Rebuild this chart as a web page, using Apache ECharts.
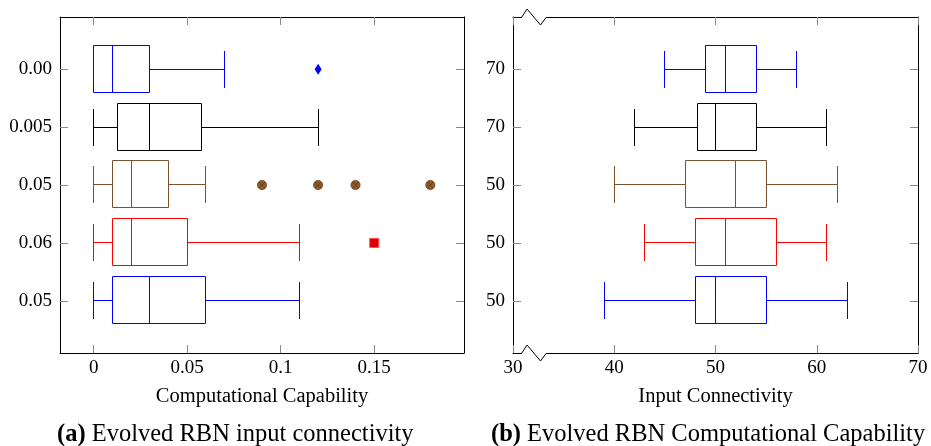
<!DOCTYPE html>
<html>
<head>
<meta charset="utf-8">
<script src="https://cdn.jsdelivr.net/npm/echarts@6/dist/echarts.min.js"></script>
<style>html,body{margin:0;padding:0;background:#fff;}#c{width:931px;height:446px;}</style>
</head>
<body>
<div id="c"></div>
<script>
// ---- Data: panel (a) ----
const leftLabels = ['0.00', '0.005', '0.05', '0.06', '0.05'];
const leftMin = [0, 0, 0, 0, 0];
const leftQ1 = [0, 0.0125, 0.01, 0.01, 0.01];
const leftMed = [0.01, 0.03, 0.02, 0.02, 0.03];
const leftQ3 = [0.03, 0.0575, 0.04, 0.05, 0.06];
const leftMax = [0.07, 0.12, 0.06, 0.11, 0.11];
const leftOutRow1 = [0.12];                    // diamond, row 1
const leftOutRow3 = [0.09, 0.12, 0.14, 0.18];  // circles, row 3
const leftOutRow4 = [0.15];                    // square, row 4
const leftXTicks = [0, 0.05, 0.1, 0.15];
const leftXTickLabels = ['0', '0.05', '0.1', '0.15'];

// ---- Data: panel (b) ----
const rightLabels = ['70', '70', '50', '50', '50'];
const rightMin = [45, 42, 40, 43, 39];
const rightQ1 = [49, 48.25, 47, 48, 48];
const rightMed = [51, 50, 52, 51, 50];
const rightQ3 = [54, 54, 55, 56, 55];
const rightMax = [58, 61, 62, 61, 63];

const rowPositions = [1, 2, 3, 4, 5];

// ---- Styles ----
const rowColors = ['#0000ff', '#000000', '#7a5230', '#ff0000', '#0000ff'];
const FONT = "'Liberation Serif','Times New Roman',serif";
const tickColor = '#8a8a8a';
const LABEL_SIZE = 19;
const NAME_SIZE = 20.5;
const CAP_SIZE = 24.5;

function boxRows(mn, q1, md, q3, mx) {
  return rowPositions.map((p, i) => [p, mn[i], q1[i], md[i], q3[i], mx[i]]);
}

function crisp(v) { return Math.round(v - 0.5) + 0.5; }

function renderBox(params, api) {
  const pos = api.value(0);
  const y = crisp(api.coord([api.value(1), pos])[1]);
  const xs = [1, 2, 3, 4, 5].map(k => crisp(api.coord([api.value(k), pos])[0]));
  const color = rowColors[params.dataIndex];
  const bt = 24, bb = 23, ch = 18.5;
  const ls = { stroke: color, lineWidth: 1, fill: null };
  return {
    type: 'group',
    children: [
      { type: 'line', shape: { x1: xs[0], y1: y, x2: xs[1], y2: y }, style: ls },
      { type: 'line', shape: { x1: xs[0], y1: y - ch, x2: xs[0], y2: y + ch }, style: ls },
      { type: 'rect', shape: { x: xs[1], y: y - bt, width: xs[3] - xs[1], height: bt + bb }, style: { stroke: color, lineWidth: 1, fill: 'none' } },
      { type: 'line', shape: { x1: xs[2], y1: y - bt, x2: xs[2], y2: y + bb }, style: ls },
      { type: 'line', shape: { x1: xs[3], y1: y, x2: xs[4], y2: y }, style: ls },
      { type: 'line', shape: { x1: xs[4], y1: y - ch, x2: xs[4], y2: y + ch }, style: ls }
    ]
  };
}

function renderOtimes(params, api) {
  const p = api.coord([api.value(0), api.value(1)]);
  const r = 4.6, d = 3.1;
  return {
    type: 'group',
    children: [
      { type: 'circle', shape: { cx: p[0], cy: p[1], r: r }, style: { fill: '#8c5a2b', stroke: '#6e4622', lineWidth: 0.8 } },
      { type: 'line', shape: { x1: p[0] - d, y1: p[1] - d, x2: p[0] + d, y2: p[1] + d }, style: { stroke: '#5a3818', lineWidth: 0.7 } },
      { type: 'line', shape: { x1: p[0] - d, y1: p[1] + d, x2: p[0] + d, y2: p[1] - d }, style: { stroke: '#5a3818', lineWidth: 0.7 } }
    ]
  };
}

const G0 = { left: 60, top: 17, width: 404, height: 336 };
const G1 = { left: 513, top: 17, width: 405, height: 336 };

const axisLineStyle = { show: true, onZero: false, lineStyle: { color: '#000', width: 1 } };
const tickStyle = { show: true, inside: true, length: 8, lineStyle: { color: tickColor, width: 1 } };
const labelBase = { color: '#000', fontSize: LABEL_SIZE, fontFamily: FONT };

function yAxes(gridIndex, labels) {
  const base = {
    type: 'value', gridIndex, min: 0.1, max: 5.9, inverse: true,
    splitLine: { show: false }, axisLine: axisLineStyle
  };
  return [
    Object.assign({}, base, {
      position: 'left',
      axisTick: Object.assign({}, tickStyle, { customValues: rowPositions }),
      axisLabel: Object.assign({}, labelBase, { customValues: rowPositions, margin: 8,
        formatter: v => labels[Math.round(v) - 1] })
    }),
    Object.assign({}, base, {
      position: 'right',
      axisTick: Object.assign({}, tickStyle, { customValues: rowPositions }),
      axisLabel: { show: false }
    })
  ];
}

const capStyle = { fontSize: CAP_SIZE, fontWeight: 'normal', color: '#000', fontFamily: FONT,
  rich: { b: { fontSize: CAP_SIZE, fontWeight: 'bold', color: '#000', fontFamily: FONT } } };

const option = {
  backgroundColor: '#fff',
  animation: false,
  grid: [G0, G1],
  title: [
    { left: 57, top: 422, padding: 0, text: '{b|(a)} Evolved RBN input connectivity', textStyle: capStyle },
    { left: 491, top: 422, padding: 0, text: '{b|(b)} Evolved RBN Computational Capability', textStyle: capStyle }
  ],
  xAxis: [
    { type: 'value', gridIndex: 0, position: 'bottom', min: -0.018, max: 0.198,
      splitLine: { show: false }, axisLine: axisLineStyle,
      axisTick: Object.assign({}, tickStyle, { customValues: leftXTicks }),
      axisLabel: Object.assign({}, labelBase, { customValues: leftXTicks, margin: 6,
        formatter: v => leftXTickLabels[leftXTicks.findIndex(t => Math.abs(t - v) < 1e-9)] }),
      name: 'Computational Capability', nameLocation: 'middle', nameGap: 33,
      nameTextStyle: { color: '#000', fontSize: NAME_SIZE, fontFamily: FONT } },
    { type: 'value', gridIndex: 0, position: 'top', min: -0.018, max: 0.198,
      splitLine: { show: false }, axisLine: axisLineStyle,
      axisTick: Object.assign({}, tickStyle, { customValues: leftXTicks }),
      axisLabel: { show: false } },
    { type: 'value', gridIndex: 1, position: 'bottom', min: 30, max: 70, interval: 10,
      splitLine: { show: false }, axisLine: axisLineStyle,
      axisTick: tickStyle,
      axisLabel: Object.assign({}, labelBase, { margin: 6, showMinLabel: true, showMaxLabel: true }),
      name: 'Input Connectivity', nameLocation: 'middle', nameGap: 33,
      nameTextStyle: { color: '#000', fontSize: NAME_SIZE, fontFamily: FONT } },
    { type: 'value', gridIndex: 1, position: 'top', min: 30, max: 70, interval: 10,
      splitLine: { show: false }, axisLine: axisLineStyle,
      axisTick: tickStyle, axisLabel: { show: false } }
  ],
  yAxis: yAxes(0, leftLabels).concat(yAxes(1, rightLabels)),
  series: [
    { type: 'custom', xAxisIndex: 0, yAxisIndex: 0, clip: false, z: 3,
      renderItem: renderBox, encode: { x: [1, 2, 3, 4, 5], y: 0 },
      data: boxRows(leftMin, leftQ1, leftMed, leftQ3, leftMax) },
    { type: 'scatter', xAxisIndex: 0, yAxisIndex: 0, symbol: 'diamond', symbolSize: [7, 11],
      itemStyle: { color: '#0000ff', opacity: 1 },
      data: leftOutRow1.map(v => [v, rowPositions[0]]) },
    { type: 'custom', xAxisIndex: 0, yAxisIndex: 0, clip: false,
      renderItem: renderOtimes, encode: { x: 0, y: 1 },
      data: leftOutRow3.map(v => [v, rowPositions[2]]) },
    { type: 'scatter', xAxisIndex: 0, yAxisIndex: 0, symbol: 'rect', symbolSize: 9,
      itemStyle: { color: '#dd0000', borderColor: '#ff4a4a', borderWidth: 1, opacity: 1 },
      data: leftOutRow4.map(v => [v, rowPositions[3]]) },
    { type: 'custom', xAxisIndex: 2, yAxisIndex: 2, clip: false, z: 3,
      renderItem: renderBox, encode: { x: [1, 2, 3, 4, 5], y: 0 },
      data: boxRows(rightMin, rightQ1, rightMed, rightQ3, rightMax) }
  ],
  graphic: [
    // axis break marks on panel (b)
    { type: 'rect', z: 100, shape: { x: G1.left + 9, y: G1.top - 2, width: 24, height: 4 }, style: { fill: '#fff' } },
    { type: 'polyline', z: 101, shape: { points: [[G1.left + 8.5, G1.top + 0.5], [G1.left + 14, G1.top - 8], [G1.left + 27.5, G1.top + 8], [G1.left + 33, G1.top + 0.5]] },
      style: { stroke: '#000', lineWidth: 1, fill: null } },
    { type: 'rect', z: 100, shape: { x: G1.left + 9, y: G1.top + G1.height - 2, width: 24, height: 4 }, style: { fill: '#fff' } },
    { type: 'polyline', z: 101, shape: { points: [[G1.left + 8.5, G1.top + G1.height + 0.5], [G1.left + 14, G1.top + G1.height - 8], [G1.left + 27.5, G1.top + G1.height + 8], [G1.left + 33, G1.top + G1.height + 0.5]] },
      style: { stroke: '#000', lineWidth: 1, fill: null } }
  ]
};

const chart = echarts.init(document.getElementById('c'), null, { renderer: 'canvas' });
chart.setOption(option);
</script>
</body>
</html>
